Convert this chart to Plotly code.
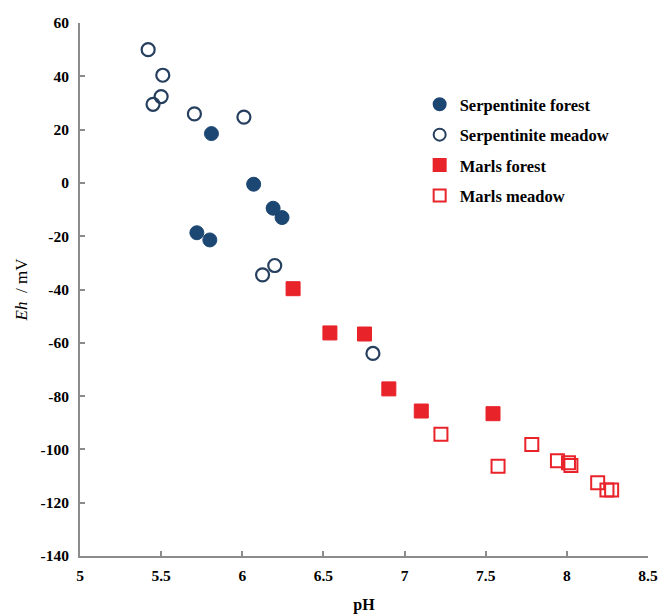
import plotly.graph_objects as go

serp_forest_ph = [5.81, 6.07, 6.19, 6.245, 5.72, 5.80]
serp_forest_eh = [18.5, -0.5, -9.5, -13.0, -18.7, -21.4]

serp_meadow_ph = [5.42, 5.51, 5.50, 5.45, 5.705, 6.01, 6.125, 6.20, 6.805]
serp_meadow_eh = [50.0, 40.4, 32.4, 29.5, 25.9, 24.7, -34.5, -31.0, -64.0]

marls_forest_ph = [6.313, 6.54, 6.753, 6.903, 7.103, 7.545]
marls_forest_eh = [-39.7, -56.3, -56.7, -77.3, -85.6, -86.6]

marls_meadow_ph = [7.224, 7.576, 7.784, 7.942, 8.01, 8.025, 8.19, 8.247, 8.276]
marls_meadow_eh = [-94.3, -106.3, -98.2, -104.3, -105.0, -106.0, -112.5, -115.2, -115.2]

x_ticks = [5, 5.5, 6, 6.5, 7, 7.5, 8, 8.5]
y_ticks = [60, 40, 20, 0, -20, -40, -60, -80, -100, -120, -140]

NAVY = "#1c4773"
RED = "#e8232a"
FONT = "Liberation Serif"

fig = go.Figure()
fig.add_trace(go.Scatter(x=serp_forest_ph, y=serp_forest_eh, mode="markers",
                         name="Serpentinite forest", legendgroup="a",
                         marker=dict(symbol="circle", size=14, color=NAVY,
                                     line=dict(color=NAVY, width=1))))
fig.add_trace(go.Scatter(x=serp_meadow_ph, y=serp_meadow_eh, mode="markers",
                         name="Serpentinite meadow", legendgroup="b",
                         marker=dict(symbol="circle-open", size=13, color="#263f5e",
                                     line=dict(color="#263f5e", width=2.2))))
fig.add_trace(go.Scatter(x=marls_forest_ph, y=marls_forest_eh, mode="markers",
                         name="Marls forest", legendgroup="c",
                         marker=dict(symbol="square", size=14, color=RED,
                                     line=dict(color=RED, width=1))))
fig.add_trace(go.Scatter(x=marls_meadow_ph, y=marls_meadow_eh, mode="markers",
                         name="Marls meadow", legendgroup="d",
                         marker=dict(symbol="square-open", size=13, color=RED,
                                     line=dict(color=RED, width=2))))

axis_common = dict(showgrid=False, zeroline=False, showline=True, linecolor="#8c8c8c",
                   linewidth=2, ticks="inside", ticklen=5, tickcolor="#8c8c8c",
                   tickwidth=1.5, automargin=False,
                   tickfont=dict(family=FONT, size=15.5, color="black", weight="bold"))

fig.update_layout(
    width=659, height=614,
    margin=dict(l=80, r=11, t=23, b=58),
    plot_bgcolor="white", paper_bgcolor="white",
    font=dict(family=FONT, color="black"),
    xaxis=dict(range=[5, 8.5], tickvals=x_ticks, ticktext=[str(v) for v in x_ticks],
               ticklabelstandoff=4,
               title=dict(text="<b>pH</b>", font=dict(family=FONT, size=16), standoff=24),
               **axis_common),
    yaxis=dict(range=[-140, 60], tickvals=y_ticks, ticktext=[str(v) for v in y_ticks],
               ticklabelstandoff=6,
               title=dict(text="<i>Eh</i>  / mV", font=dict(family=FONT, size=17), standoff=9),
               **axis_common),
    legend=dict(x=0.598, y=0.88, xanchor="left", yanchor="top",
                font=dict(family=FONT, size=16.5, color="black", weight="bold"),
                tracegroupgap=6, itemsizing="constant", bgcolor="rgba(0,0,0,0)"),
)

fig.write_html("out.html")
